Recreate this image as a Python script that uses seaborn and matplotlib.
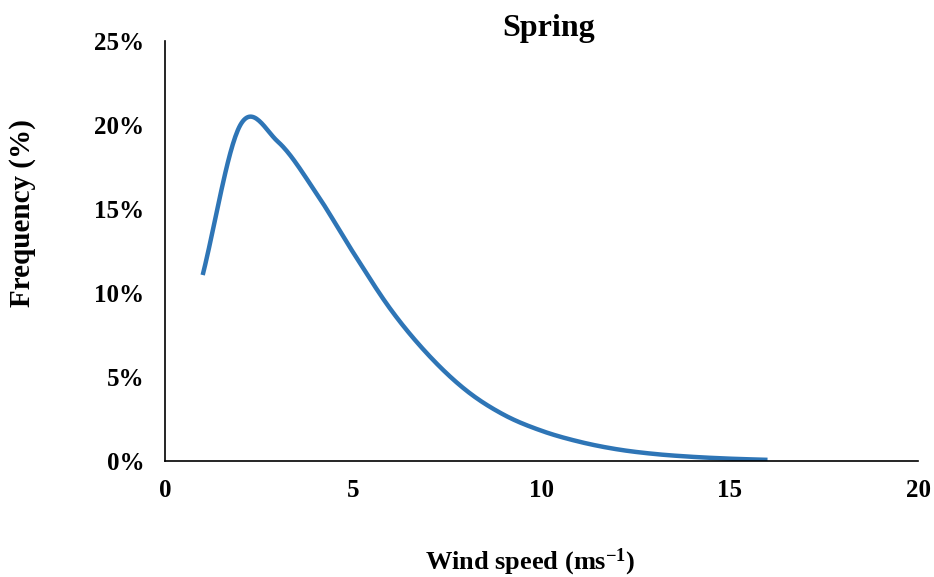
import numpy as np
import pandas as pd
import matplotlib
matplotlib.use("Agg")
import matplotlib.pyplot as plt
import seaborn as sns
from matplotlib.ticker import FuncFormatter

wind_speed = [1, 2, 3, 4, 5, 6, 7, 8, 9, 10, 11, 12, 13, 14, 15, 16]
frequency = [11.07, 20.0, 19.0, 16.0, 12.4, 9.0, 6.3, 4.2, 2.75, 1.8, 1.15, 0.7, 0.42, 0.25, 0.14, 0.07]
x_ticks = [0, 5, 10, 15, 20]
y_ticks = [0, 5, 10, 15, 20, 25]


def smooth(xs, ys, n=30):
    # Catmull-Rom smoothing, like a spreadsheet's smoothed line
    xs = np.asarray(xs, float)
    ys = np.asarray(ys, float)
    px = np.concatenate([[2 * xs[0] - xs[1]], xs, [2 * xs[-1] - xs[-2]]])
    py = np.concatenate([[2 * ys[0] - ys[1]], ys, [2 * ys[-1] - ys[-2]]])
    ox, oy = [], []
    t = np.linspace(0, 1, n, endpoint=False)
    h00 = 2 * t**3 - 3 * t**2 + 1
    h10 = t**3 - 2 * t**2 + t
    h01 = -2 * t**3 + 3 * t**2
    h11 = t**3 - t**2
    for i in range(1, len(px) - 2):
        for P, out in ((px, ox), (py, oy)):
            p0, p1, p2, p3 = P[i - 1], P[i], P[i + 1], P[i + 2]
            m1 = (p2 - p0) / 2
            m2 = (p3 - p1) / 2
            out.extend(h00 * p1 + h10 * m1 + h01 * p2 + h11 * m2)
    ox.append(xs[-1]); oy.append(ys[-1])
    return np.array(ox), np.array(oy)


sx, sy = smooth(wind_speed, frequency)
df = pd.DataFrame({"x": sx, "y": sy})

sns.set_theme(style="white")
plt.rcParams["font.family"] = ["Liberation Serif", "DejaVu Serif"]
plt.rcParams["text.color"] = "black"
plt.rcParams["axes.labelcolor"] = "black"
plt.rcParams["xtick.color"] = "black"
plt.rcParams["ytick.color"] = "black"
plt.rcParams["mathtext.fontset"] = "custom"
plt.rcParams["mathtext.rm"] = "Liberation Serif:bold"
plt.rcParams["mathtext.bf"] = "Liberation Serif:bold"
plt.rcParams["mathtext.default"] = "bf"

fig = plt.figure(figsize=(9.34, 5.77), dpi=100)
ax = fig.add_axes([0.1767, 0.201, 0.8063, 0.728])
sns.lineplot(data=df, x="x", y="y", ax=ax, color="#2E75B6", linewidth=3.2, sort=False,
             solid_capstyle="butt")

ax.set_xlim(0, 20)
ax.set_ylim(0, 25)
ax.set_xticks(x_ticks)
ax.set_yticks(y_ticks)
ax.yaxis.set_major_formatter(FuncFormatter(lambda v, p: f"{int(v)}%"))
ax.tick_params(axis="both", length=0, labelsize=18, labelcolor="black")
ax.tick_params(axis="x", pad=13)
ax.tick_params(axis="y", pad=15)
for lab in ax.get_xticklabels() + ax.get_yticklabels():
    lab.set_fontweight("bold")

for s in ["top", "right"]:
    ax.spines[s].set_visible(False)
for s in ["left", "bottom"]:
    ax.spines[s].set_color("black")
    ax.spines[s].set_linewidth(1.2)

ax.set_title("Spring", fontsize=23, fontweight="bold", pad=3.5, x=0.51, color="black")
ax.set_xlabel("Wind speed (ms$^{-1}$)", fontsize=19, fontweight="bold")
ax.set_ylabel("Frequency (%)", fontsize=21, fontweight="bold")
ax.xaxis.set_label_coords(0.485, -0.205)
ax.yaxis.set_label_coords(-0.172, 0.59)

fig.savefig("out.png", dpi=100)
